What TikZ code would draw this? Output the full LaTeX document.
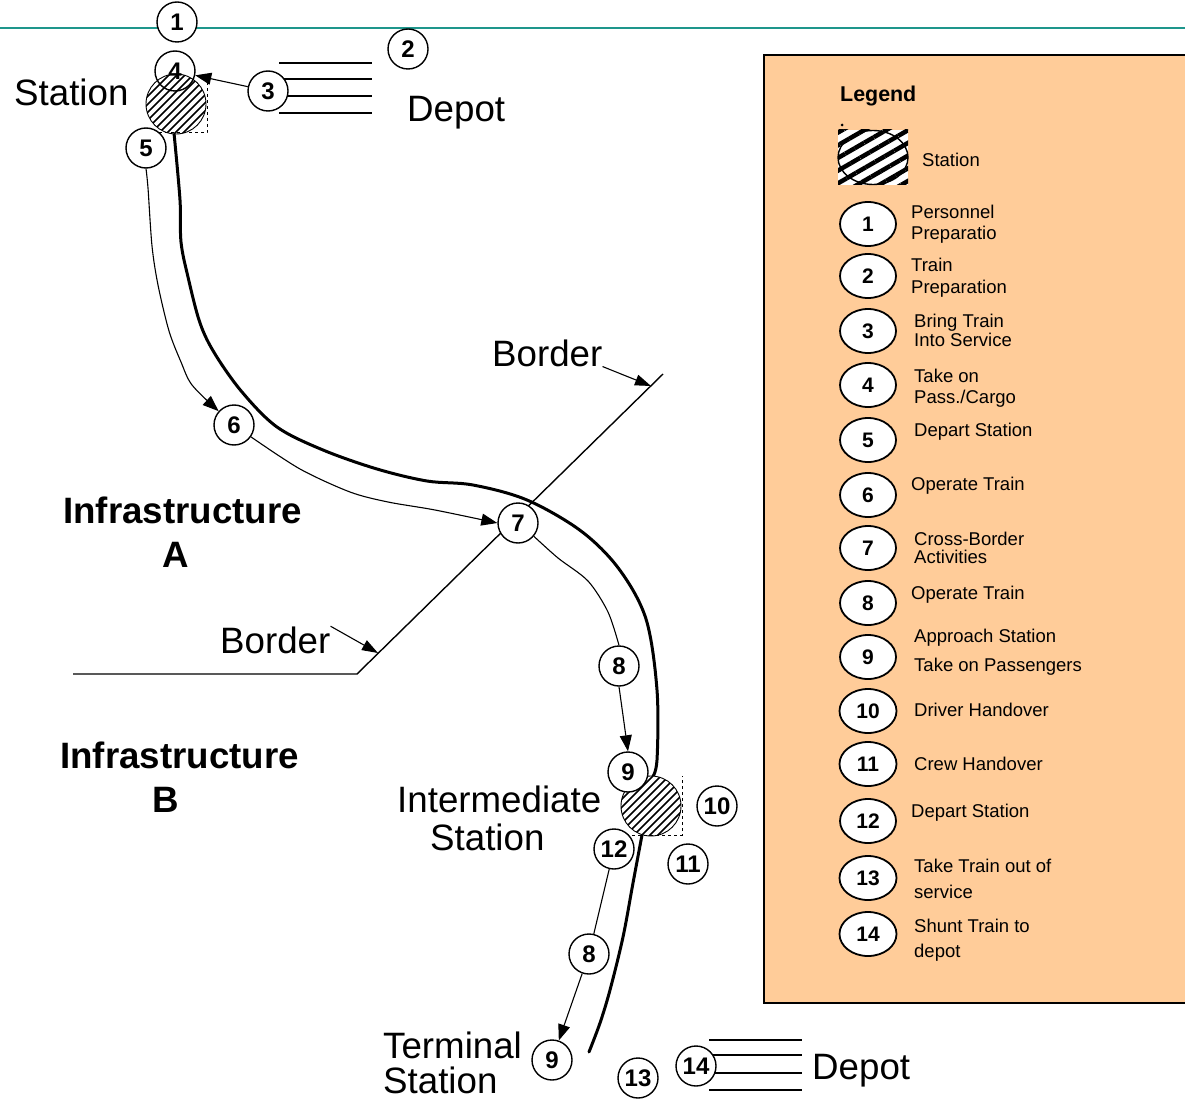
\documentclass[tikz,border=0pt]{standalone}
\usepackage{fontspec}
\setmainfont{Liberation Sans}
\usetikzlibrary{arrows.meta,patterns.meta,shapes.geometric}
\definecolor{peach}{RGB}{255,204,153}
\definecolor{tealline}{RGB}{30,150,140}
\newcommand\mainsz{\fontsize{36.7}{40}\selectfont}
\newcommand\legsz{\fontsize{18.5}{21}\selectfont}
\newcommand\numsz{\fontsize{24}{26}\selectfont\bfseries}
\newcommand\legnumsz{\fontsize{21}{23}\selectfont\bfseries}
\begin{document}
\begin{tikzpicture}[x=1pt,y=-1pt,
  circ/.style={circle,draw,line width=1.4pt,fill=white,minimum size=40pt,inner sep=0pt,font=\numsz},
  lell/.style={ellipse,draw,line width=1.8pt,fill=white,minimum width=56pt,minimum height=44pt,inner sep=0pt,font=\legnumsz},
  lbl/.style={anchor=base west,inner sep=0pt,font=\mainsz},
  blbl/.style={anchor=base west,inner sep=0pt,font=\mainsz\bfseries},
  ltxt/.style={anchor=base west,inner sep=0pt,font=\legsz},
  track/.style={line width=3pt,line join=round,line cap=round},
  flow/.style={line width=1.1pt},
  arr/.style={-{Triangle[length=16pt,width=12pt]}},
  hatchln/.style={line width=1.5pt},
  depotline/.style={line width=1.3pt},
  borderline/.style={line width=1.4pt}]
\useasboundingbox (0,0) rectangle (1185,1099);

% legend box
\draw[line width=2pt,fill=peach] (764,55) rectangle (1200,1003);

% teal header line
\draw[tealline,line width=2.2pt] (0,28) -- (1185,28);

% depot lines
\foreach \yy in {63,79,96,113} \draw[depotline] (279,\yy) -- (372,\yy);
\foreach \yy in {1040,1055,1073,1090} \draw[depotline] (709,\yy) -- (802,\yy);

% border
\coordinate (bTop) at (663,374);
\coordinate (bCorner) at (357,674);
\coordinate (bLeft) at (73,674);
\draw[borderline] (bTop) -- (bCorner) -- (bLeft);

% track
\draw[track] plot[smooth,tension=0.55] coordinates {(174,133) (180,200) (181,242) (188,277) (200,323) (215,354) (242,392) (277,427) (323,450) (377,469) (427,481) (473,485) (527,500) (581,531) (619,569) (646,619) (657,690) (657,760) (652,778)};
\draw[track] plot[smooth,tension=0.55] coordinates {(642,835) (633,883) (623,937) (610,990) (600,1023) (589,1052)};

% stations (hatched)
\fill[white] (176,104) circle (30);
\begin{scope}
  \clip (176,104) circle (30);
  \foreach \d in {-60,-52,...,60} \draw[hatchln] (146+\d,134) -- (206+\d,74);
\end{scope}
\draw[line width=0.9pt] (176,104) circle (30);
\draw[line width=1pt,dash pattern=on 3pt off 3pt] (147,133) -- (207,133) -- (207,75);
\fill[white] (651,806) circle (30);
\begin{scope}
  \clip (651,806) circle (30);
  \foreach \d in {-60,-52,...,60} \draw[hatchln] (621+\d,836) -- (681+\d,776);
\end{scope}
\draw[line width=0.9pt] (651,806) circle (30);
\draw[line width=1pt,dash pattern=on 3pt off 3pt] (620,835) -- (682,835) -- (682,776);

% step circles
\node[circ] (c1) at (177,22) {1};
\node[circ] (c2) at (408,49) {2};
\node[circ] (c3) at (268,91) {3};
\node[circ,fill=none] (c4) at (175,71) {4};
\node[circ] (c5) at (146,148) {5};
\node[circ] (c6) at (234,425) {6};
\node[circ] (c7) at (518,523) {7};
\node[circ] (c8) at (619,666) {8};
\node[circ] (c9) at (628,772) {9};
\node[circ] (c10) at (717,806) {10};
\node[circ] (c12) at (614,849) {12};
\node[circ] (c11) at (688,864) {11};
\node[circ] (c8b) at (589,954) {8};
\node[circ] (c9b) at (552,1060) {9};
\node[circ] (c13) at (638,1078) {13};
\node[circ] (c14) at (696,1066) {14};

% flows
\draw[flow,arr] (c3) -- (c4);
\draw[flow,arr] plot[smooth,tension=0.5] coordinates {(c5.south) (148,188) (152,246) (158,285) (169,331) (181,362) (192,385) (c6.138)};
\draw[flow,arr] plot[smooth,tension=0.5] coordinates {(c6.-35) (300,469) (350,492) (388,502) (435,510) (c7.west)};
\draw[flow] plot[smooth,tension=0.5] coordinates {(c7.-40) (558,558) (588,581) (608,612) (c8.north)};
\draw[flow,arr] (c8.south) -- (c9.north);
\draw[flow] (c12) -- (c8b);
\draw[flow,arr] (c8b) -- (c9b);

% labels
\node[lbl] (tStation) at (14,106) {Station};
\node[lbl] (tDepot) at (407,122) {Depot};
\node[lbl] (bdA) at (492,366) {Border};
\node[lbl] (bdB) at (220,653) {Border};
\coordinate (bA) at (651,386);
\coordinate (bB) at (378,653);
\draw[flow,-{Triangle[length=16pt,width=11pt]}] (bdA.south east) -- (bA);
\draw[flow,-{Triangle[length=16pt,width=11pt]}] (bdB.north east) -- (bB);
\node[blbl] (tInfA) at (63,523) {Infrastructure};
\node[blbl] (tA) at (162,567) {A};
\node[blbl] (tInfB) at (60,768) {Infrastructure};
\node[blbl] (tB) at (152,812) {B};
\node[lbl] (tInter) at (397,812) {Intermediate};
\node[lbl] (tInterS) at (430,850) {Station};
\node[lbl] (tTerm) at (383,1058) {Terminal};
\node[lbl] (tTermS) at (383,1093) {Station};
\node[lbl] (tDepot2) at (812,1079) {Depot};

% legend
\node[anchor=base west,inner sep=0pt,font=\fontsize{21.4}{24}\selectfont\bfseries] (lgTitle) at (840,102) {Legend};
\fill[white] (838,130) rectangle (908,185);
\fill[pattern={Lines[angle=30,distance=11pt,line width=4.5pt]}] (838,130) rectangle (908,185);
\draw[line width=1.4pt] (873,157.5) ellipse [x radius=35, y radius=27];
\fill (842,125) circle (1.5);
\node[ltxt] (lgSt) at (922,167) {Station};

\node[lell] (e1) at (868,224) {1};
\node[ltxt] (e1a) at (911,219) {Personnel};
\node[ltxt] (e1b) at (911,240) {Preparatio};
\node[lell] (e2) at (868,276) {2};
\node[ltxt] (e2a) at (911,272) {Train};
\node[ltxt] (e2b) at (911,293) {Preparation};
\node[lell] (e3) at (868,331) {3};
\node[ltxt] (e3a) at (914,327) {Bring Train};
\node[ltxt] (e3b) at (914,346) {Into Service};
\node[lell] (e4) at (868,385) {4};
\node[ltxt] (e4a) at (914,382) {Take on};
\node[ltxt] (e4b) at (914,403) {Pass./Cargo};
\node[lell] (e5) at (868,440) {5};
\node[ltxt] (e5a) at (914,436) {Depart Station};
\node[lell] (e6) at (868,495) {6};
\node[ltxt] (e6a) at (911,490) {Operate Train};
\node[lell] (e7) at (868,548) {7};
\node[ltxt] (e7a) at (914,545) {Cross-Border};
\node[ltxt] (e7b) at (914,563) {Activities};
\node[lell] (e8) at (868,603) {8};
\node[ltxt] (e8a) at (911,599) {Operate Train};
\node[lell] (e9) at (868,657) {9};
\node[ltxt] (e9a) at (914,642) {Approach Station};
\node[ltxt] (e9b) at (914,671) {Take on Passengers};
\node[lell,minimum width=57pt] (e10) at (868,711) {10};
\node[ltxt] (e10a) at (914,716) {Driver Handover};
\node[lell,minimum width=57pt] (e11) at (868,764) {11};
\node[ltxt] (e11a) at (914,770) {Crew Handover};
\node[lell] (e12) at (868,821) {12};
\node[ltxt] (e12a) at (911,817) {Depart Station};
\node[lell,minimum width=57pt] (e13) at (868,878) {13};
\node[ltxt] (e13a) at (914,872) {Take Train out of};
\node[ltxt] (e13b) at (914,898) {service};
\node[lell,minimum width=57pt] (e14) at (868,934) {14};
\node[ltxt] (e14a) at (914,932) {Shunt Train to};
\node[ltxt] (e14b) at (914,957) {depot};
\end{tikzpicture}
\end{document}
